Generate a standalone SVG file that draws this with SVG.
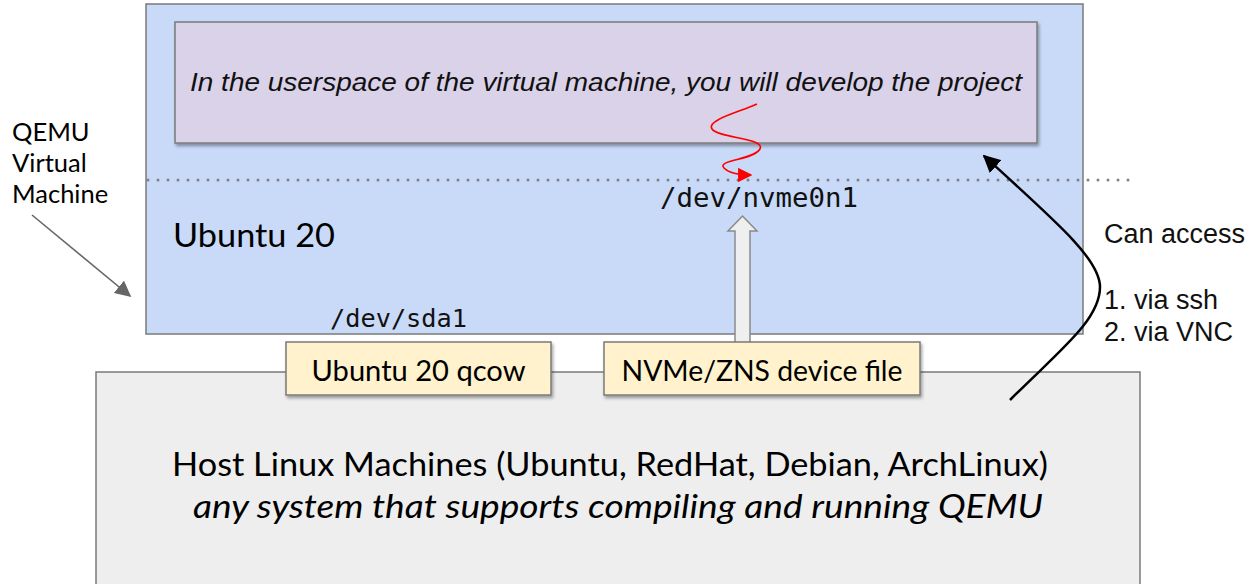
<svg xmlns="http://www.w3.org/2000/svg" width="1253" height="584" viewBox="0 0 1253 584">
<style>
.cal{font-family:Lato,"Open Sans",sans-serif;fill:#000}
.ar{font-family:"Liberation Sans",Arial,sans-serif;fill:#111}
.mono{font-family:"DejaVu Sans Mono","Liberation Mono",monospace;fill:#111}
.box{stroke:#7a7a7a;stroke-width:1.5}
</style>
<defs>
<filter id="sh" x="-5%" y="-10%" width="110%" height="130%">
<feDropShadow dx="1.5" dy="2.5" stdDeviation="1.5" flood-color="#000" flood-opacity="0.35"/>
</filter>
<marker id="ahB" viewBox="0 0 10 10" refX="9" refY="5" markerWidth="7" markerHeight="7" orient="auto" markerUnits="strokeWidth">
<path d="M0,0 L10,5 L0,10 z" fill="#000"/>
</marker>
<marker id="ahG" viewBox="0 0 10 10" refX="9" refY="5" markerWidth="10" markerHeight="10" orient="auto" markerUnits="strokeWidth">
<path d="M0,0 L10,5 L0,10 z" fill="#666"/>
</marker>
<marker id="ahR" viewBox="0 0 10 10" refX="9" refY="5" markerWidth="9" markerHeight="9" orient="auto" markerUnits="strokeWidth">
<path d="M0,0 L10,5 L0,10 z" fill="#ff0000"/>
</marker>
</defs>

<g id="host">
<rect x="96" y="372" width="1044" height="220" fill="#eeeeee" class="box"/>
<text class="cal" x="610" y="476" font-size="33" text-anchor="middle" textLength="876" lengthAdjust="spacingAndGlyphs">Host Linux Machines (Ubuntu, RedHat, Debian, ArchLinux)</text>
<text class="cal" x="618" y="518" font-size="33" font-style="italic" text-anchor="middle" textLength="850" lengthAdjust="spacingAndGlyphs">any system that supports compiling and running QEMU</text>
</g>

<g id="vm">
<rect x="146" y="4" width="937" height="330" fill="#c9daf8" class="box"/>
<text class="cal" x="173" y="247" font-size="33" textLength="162" lengthAdjust="spacingAndGlyphs">Ubuntu 20</text>
<text class="mono" x="330" y="327" font-size="24" textLength="137" lengthAdjust="spacingAndGlyphs">/dev/sda1</text>
<text class="mono" x="660" y="207" font-size="26" textLength="198" lengthAdjust="spacingAndGlyphs">/dev/nvme0n1</text>
</g>

<g id="userspace">
<rect x="175" y="22" width="862" height="121" fill="#d9d2e9" class="box" filter="url(#sh)"/>
<text class="ar" x="606" y="91" font-size="25" font-style="italic" text-anchor="middle" textLength="832" lengthAdjust="spacingAndGlyphs">In the userspace of the virtual machine, you will develop the project</text>
</g>

<g id="divider">
<line x1="148" y1="180" x2="1135" y2="180" stroke="#808080" stroke-width="3" stroke-dasharray="0 10" stroke-linecap="round"/>
</g>

<g id="connectors">
<polygon points="735,350 735,231 728,231 742.5,216 757,231 750,231 750,350" fill="#efefef" stroke="#8a8a8a" stroke-width="1.5"/>
<path d="M757,104 C740,112 706,120 712,129 C718,138 766,138 760,149 C754,160 716,160 724,168 C729,173 738,175 751,175" fill="none" stroke="#ff0000" stroke-width="1.6" marker-end="url(#ahR)"/>
<path d="M1010,400 C1060,350 1100,320 1100,287 C1100,260 1060,225 984,156" fill="none" stroke="#000" stroke-width="2.5" marker-end="url(#ahB)"/>
<line x1="32" y1="215" x2="130" y2="296" stroke="#666" stroke-width="1.6" marker-end="url(#ahG)"/>
</g>

<g id="qcow">
<rect x="286" y="342" width="265" height="53" fill="#fff2cc" class="box" filter="url(#sh)"/>
<text class="cal" x="418.5" y="381" font-size="28" text-anchor="middle" textLength="214" lengthAdjust="spacingAndGlyphs">Ubuntu 20 qcow</text>
</g>

<g id="nvmefile">
<rect x="604" y="342" width="316" height="53" fill="#fff2cc" class="box" filter="url(#sh)"/>
<text class="cal" x="762" y="381" font-size="28" text-anchor="middle" textLength="281" lengthAdjust="spacingAndGlyphs">NVMe/ZNS device file</text>
</g>

<g id="qemu-label">
<text class="cal" font-size="25.5"><tspan x="12" y="141">QEMU</tspan><tspan x="12" y="172">Virtual</tspan><tspan x="12" y="203">Machine</tspan></text>
</g>

<g id="access-label">
<text class="ar" x="1104" y="243" font-size="27">Can access</text>
<text class="ar" x="1104" y="309" font-size="27">1. via ssh</text>
<text class="ar" x="1104" y="341" font-size="27">2. via VNC</text>
</g>
</svg>
